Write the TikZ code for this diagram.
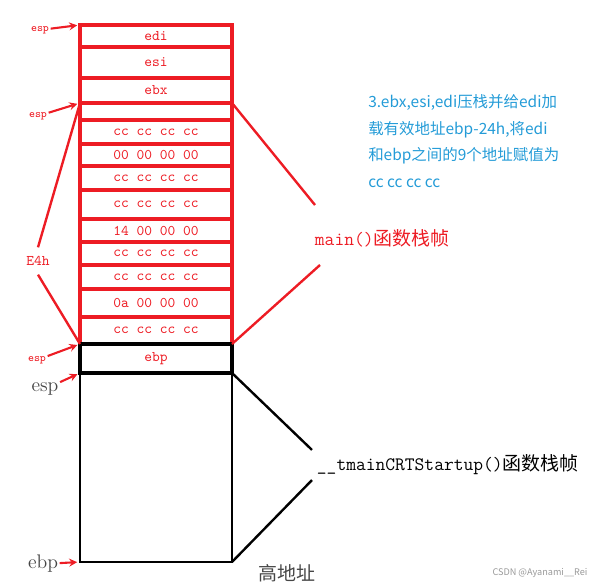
\documentclass[tikz,border=0pt]{standalone}
\usepackage{fontspec}
\newfontfamily\cjk{Noto Sans CJK SC}
\usetikzlibrary{positioning}
\definecolor{paintred}{RGB}{237,28,36}
\definecolor{noteblue}{RGB}{35,155,215}
\definecolor{labelgray}{RGB}{70,70,70}
\tikzset{
  row/.style={draw=paintred, line width=2.3pt, minimum width=3.8cm, inner sep=0pt, outer sep=0pt,
    text=paintred, font=\ttfamily\fontsize{10.5}{12}\selectfont},
  blackrow/.style={row, draw=black},
  esplab/.style={text=paintred, font=\ttfamily\fontsize{8}{9}\selectfont, inner sep=1pt},
  reglab/.style={text=labelgray, font=\fontsize{14}{16}\selectfont, inner sep=1pt},
  ptr/.style={->, >=stealth, paintred, line width=1.5pt, shorten >=2pt},
  redline/.style={paintred, line width=1.7pt},
  blackline/.style={black, line width=1.7pt}
}
\begin{document}
\begin{tikzpicture}
  \useasboundingbox (0,0) rectangle (15,14.65);
  % main() frame
  \node[row, minimum height=0.55cm] (edi) at (3.9,13.75) {edi};
  \node[row, minimum height=0.775cm, below=0pt of edi] (esi) {esi};
  \node[row, minimum height=0.625cm, below=0pt of esi] (ebx) {ebx};
  \node[row, minimum height=0.425cm, below=0pt of ebx] (pad) {};
  \node[row, minimum height=0.6cm, below=0pt of pad] (r1) {cc cc cc cc};
  \node[row, minimum height=0.55cm, below=0pt of r1] (r2) {00 00 00 00};
  \node[row, minimum height=0.6cm, below=0pt of r2] (r3) {cc cc cc cc};
  \node[row, minimum height=0.725cm, below=0pt of r3] (r4) {cc cc cc cc};
  \node[row, minimum height=0.575cm, below=0pt of r4] (r5) {14 00 00 00};
  \node[row, minimum height=0.575cm, below=0pt of r5] (r6) {cc cc cc cc};
  \node[row, minimum height=0.6cm, below=0pt of r6] (r7) {cc cc cc cc};
  \node[row, minimum height=0.7cm, below=0pt of r7] (r8) {0a 00 00 00};
  \node[row, minimum height=0.675cm, below=0pt of r8] (r9) {cc cc cc cc};
  % __tmainCRTStartup() frame
  \node[blackrow, line width=3pt, minimum height=0.725cm, below=0pt of r9] (ebp) {ebp};
  \node[blackrow, line width=2pt, minimum height=4.725cm, below=0pt of ebp] (big) {};

  % register pointers
  \node[esplab] (espa) at (1.0,13.9) {esp};
  \node[esplab] (espb) at (0.95,11.75) {esp};
  \node[esplab] (espc) at (0.925,5.65) {esp};
  \node[reglab] (espd) at (1.125,4.925) {esp};
  \node[reglab] (ebpa) at (1.075,0.55) {ebp};
  \draw[ptr] (espa) -- (edi.north west);
  \draw[ptr] (espb) -- (pad.north west);
  \draw[ptr] (espc) -- (ebp.north west);
  \draw[ptr] (espd) -- (big.north west);
  \draw[ptr] (ebpa) -- (big.south west);

  % frame size
  \node[text=paintred, font=\ttfamily\fontsize{10.5}{12}\selectfont, inner xsep=0pt, inner ysep=0.22cm] (e4h) at (0.95,8.125) {E4h};
  \draw[redline] (pad.north west) -- (e4h.north);
  \draw[redline] (e4h.south) -- (r9.south west);

  % frame labels
  \node[anchor=west, text=paintred, font=\fontsize{13.5}{15}\selectfont] (main) at (7.75,8.7) {\ttfamily main(){\cjk 函数栈帧}};
  \coordinate (mtop) at (7.875,9.525);
  \coordinate (mbot) at (8.0,8.025);
  \draw[redline] (pad.north east) -- (mtop);
  \draw[redline] (mbot) -- (r9.south east);

  \node[anchor=west, text=black, font=\fontsize{13.5}{15}\selectfont] (tmain) at (7.8,3.025) {\ttfamily \_\_tmainCRTStartup(){\cjk 函数栈帧}};
  \draw[blackline] (big.north east) -- (tmain.north west);
  \draw[blackline] (tmain.south west) -- (big.south east);

  \node[anchor=north west, align=left, inner sep=0pt, text=noteblue, font=\cjk\fontsize{11}{19}\selectfont] (note) at (9.2,12.3)
    {3.ebx,esi,edi压栈并给edi加\\载有效地址ebp-24h,将edi\\和ebp之间的9个地址赋值为\\cc cc cc cc};

  \node[text=labelgray, font=\cjk\fontsize{13.5}{15}\selectfont] (high) at (7.175,0.325) {高地址};
  \node[text=black!40, font=\cjk\fontsize{6.5}{8}\selectfont] (mark) at (13.5,0.325) {CSDN @Ayanami\_\_Rei};
\end{tikzpicture}
\end{document}
